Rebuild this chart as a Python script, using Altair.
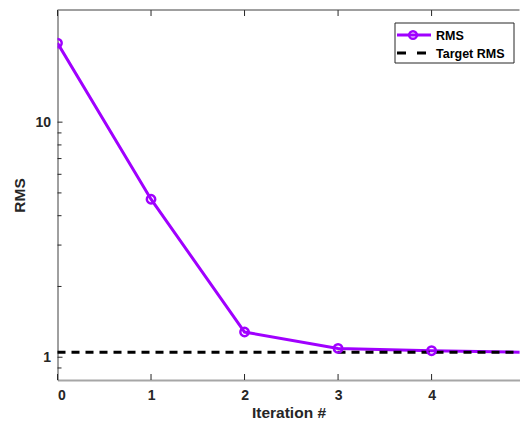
import altair as alt
import pandas as pd

# ---- data ----
iterations = [0, 1, 2, 3, 4, 5]
rms_values = [21.7, 4.7, 1.28, 1.09, 1.066, 1.05]
target_rms = [1.05]
x_tick_values = [0, 1, 2, 3, 4]
y_major_ticks = [1, 10]
y_minor_ticks = [0.9, 2, 3, 4, 5, 6, 7, 8, 9]
legend_labels = ["RMS", "Target RMS"]

PURPLE = "#A000FF"
DARK = "#262626"
FONT = "Liberation Sans"
W, H = 462, 370

xs = alt.Scale(domain=[0, 4.94], nice=False, zero=False)
ys = alt.Scale(type="log", domain=[0.8, 30], nice=False)

df = pd.DataFrame({"iter": iterations, "rms": rms_values})
df_t = pd.DataFrame({"rms": target_rms})
df_ymaj = pd.DataFrame({"rms": y_major_ticks})
df_ymin = pd.DataFrame({"rms": y_minor_ticks})
df_xt = pd.DataFrame({"iter": x_tick_values})
one = pd.DataFrame({"k": [0]})

x_enc = alt.X("iter:Q", scale=xs, axis=alt.Axis(
    values=x_tick_values, format="d", ticks=False, grid=False,
    title="Iteration #", titleFont=FONT, titleFontSize=15.5, titleFontWeight="bold",
    titleColor=DARK, titlePadding=3,
    labelFont=FONT, labelFontSize=14, labelFontWeight="bold", labelColor=DARK,
    labelPadding=8, domainColor="#a6a6a6", domainWidth=2))
y_enc = alt.Y("rms:Q", scale=ys, axis=alt.Axis(
    values=y_major_ticks, format="d", ticks=False, grid=False,
    title="RMS", titleFont=FONT, titleFontSize=15.5, titleFontWeight="bold",
    titleColor=DARK, titlePadding=7,
    labelFont=FONT, labelFontSize=14, labelFontWeight="bold", labelColor=DARK,
    labelPadding=7, domainColor="#404040", domainWidth=1))

line = alt.Chart(df).mark_line(color=PURPLE, strokeWidth=3, clip=True).encode(x=x_enc, y=y_enc)
pts = alt.Chart(df).mark_point(shape="circle", filled=False, color=PURPLE, size=70,
                               strokeWidth=2.5, opacity=1, clip=True).encode(
    x=alt.X("iter:Q", scale=xs), y=alt.Y("rms:Q", scale=ys))
target = alt.Chart(df_t).mark_rule(color="black", strokeWidth=3, strokeDash=[8, 6]).encode(
    y=alt.Y("rms:Q", scale=ys), x=alt.value(0), x2=alt.value(W))

ymaj = alt.Chart(df_ymaj).mark_rule(color=DARK, strokeWidth=1).encode(
    y=alt.Y("rms:Q", scale=ys), x=alt.value(0), x2=alt.value(5))
ymin = alt.Chart(df_ymin).mark_rule(color=DARK, strokeWidth=1).encode(
    y=alt.Y("rms:Q", scale=ys), x=alt.value(0), x2=alt.value(4))
xt_bot = alt.Chart(df_xt).mark_rule(color=DARK, strokeWidth=1).encode(
    x=alt.X("iter:Q", scale=xs), y=alt.value(H), y2=alt.value(H - 6))
xt_top = alt.Chart(df_xt).mark_rule(color=DARK, strokeWidth=1).encode(
    x=alt.X("iter:Q", scale=xs), y=alt.value(0), y2=alt.value(6))
top_border = alt.Chart(one).mark_rule(color="#404040", strokeWidth=1).encode(
    x=alt.value(0), x2=alt.value(W), y=alt.value(0))

# legend box
leg_box = alt.Chart(one).mark_rect(fill="white", stroke=DARK, strokeWidth=1).encode(
    x=alt.value(337.5), x2=alt.value(456.5), y=alt.value(13), y2=alt.value(53))
leg_line = alt.Chart(one).mark_rule(color=PURPLE, strokeWidth=3).encode(
    x=alt.value(339.5), x2=alt.value(373.5), y=alt.value(25))
leg_pt = alt.Chart(one).mark_point(shape="circle", filled=False, color=PURPLE, size=60,
                                   strokeWidth=2.5, opacity=1).encode(
    x=alt.value(355.5), y=alt.value(25))
leg_dash = alt.Chart(one).mark_rule(color="black", strokeWidth=3, strokeDash=[9, 11]).encode(
    x=alt.value(339.5), x2=alt.value(369.5), y=alt.value(43))
leg_t1 = alt.Chart(pd.DataFrame({"t": [legend_labels[0]]})).mark_text(
    align="left", baseline="middle", font=FONT, fontSize=12.5, fontWeight="bold", color="black").encode(
    x=alt.value(378.5), y=alt.value(25.5), text="t:N")
leg_t2 = alt.Chart(pd.DataFrame({"t": [legend_labels[1]]})).mark_text(
    align="left", baseline="middle", font=FONT, fontSize=12.5, fontWeight="bold", color="black").encode(
    x=alt.value(378.5), y=alt.value(43.5), text="t:N")

chart = alt.layer(
    line, target, pts, ymaj, ymin, xt_bot, xt_top, top_border,
    leg_box, leg_line, leg_pt, leg_dash, leg_t1, leg_t2
).properties(
    width=W, height=H,
    autosize=alt.AutoSizeParams(type="none"),
    padding={"left": 57.5, "top": 10, "right": 0, "bottom": 46},
    background="white",
).configure_view(stroke=None)

chart.save("out.html", embed_options={"renderer": "svg", "actions": False})
